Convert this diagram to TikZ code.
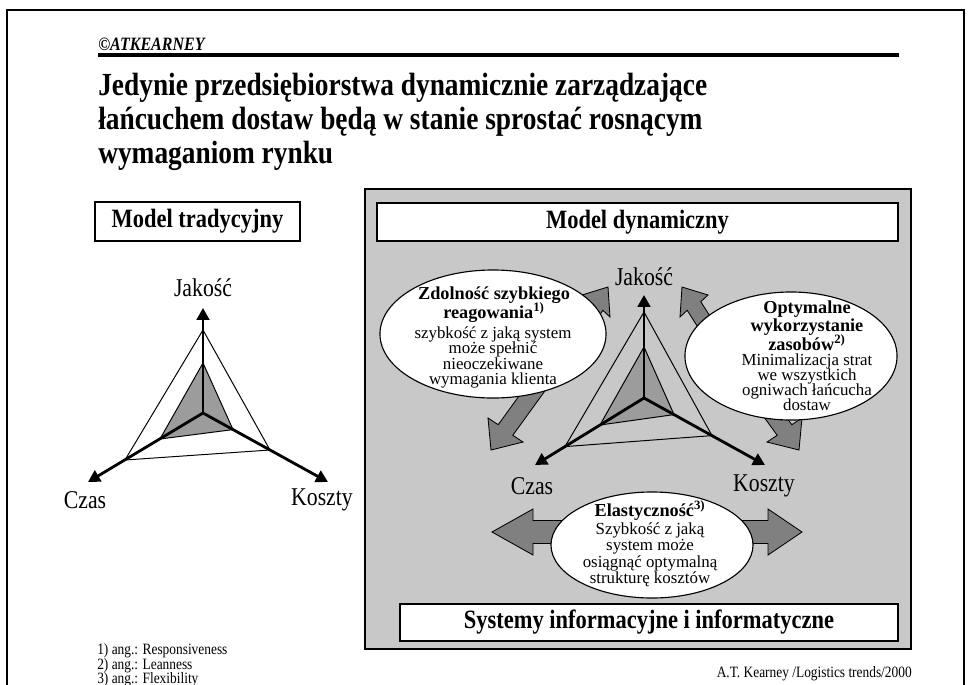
\documentclass[tikz,border=0pt]{standalone}
\usepackage{graphicx}
\usepackage{fontspec}
\setmainfont{Liberation Serif}[FakeStretch=0.85]
\newfontfamily\plainserif{Liberation Serif}
\usetikzlibrary{arrows.meta,shapes.geometric}
\definecolor{panelgray}{HTML}{C8C8C8}
\definecolor{arrowgray}{HTML}{808080}
\definecolor{innergray}{HTML}{9C9C9C}

\tikzset{
  headbox/.style={draw, line width=1pt, fill=white, inner sep=0pt,
    font=\fontsize{18.8}{20}\selectfont\bfseries},
  axis/.style={line width=2pt, -{Triangle[length=8.5pt,width=9pt]}},
  axislabel/.style={font=\fontsize{18.2}{19}\selectfont},
  blob/.style={ellipse, draw, line width=0.8pt, fill=white, inner sep=0pt},
  blobhead/.style={anchor=base, inner sep=0pt, font=\plainserif\fontsize{13}{13}\selectfont\bfseries},
  blobline/.style={anchor=base, inner sep=0pt, font=\plainserif\fontsize{12}{12}\selectfont},
  blockarrow/.style={draw, line width=0.6pt, fill=arrowgray, line join=miter},
  small/.style={font=\fontsize{11.2}{11.5}\selectfont, inner sep=0pt},
}

\begin{document}
\begin{tikzpicture}[x=0.025cm, y=-0.025cm]
\useasboundingbox (0,0) rectangle (976,685);
\clip (0,0) rectangle (976,685);
\draw[line width=1.6pt] (7,700) -- (7,10) -- (964,10) -- (964,700);
\node[anchor=base west, inner sep=0pt, font=\fontsize{13.4}{14}\selectfont\bfseries\itshape] (logo) at (98,50) {©ATKEARNEY};
\draw[line width=2.8pt] (98,55) -- (899,55);
\foreach \txt [count=\i] in {Jedynie przedsiębiorstwa dynamicznie zarządzające, łańcuchem dostaw będą w stanie sprostać rosnącym, wymaganiom rynku}
  \node[anchor=base west, inner sep=0pt, font=\fontsize{22.9}{24}\selectfont\bfseries] (title\i) at (98,61+34*\i) {\txt};

\node[headbox, minimum width=5.125cm, minimum height=0.975cm] (tradbox) at (197.5,221.5) {Model tradycyjny};
\draw[line width=0.7pt] (203,330) -- (125,460) -- (270,450) -- cycle;
\draw[line width=0.7pt, fill=innergray] (203,363) -- (160,439) -- (233,429.6) -- cycle;
\coordinate (tc) at (203,413);
\coordinate (tq) at (203,308);
\coordinate (tt) at (88,482);
\coordinate (tk) at (328,482);
\draw[axis] (tc) -- (tq);
\draw[axis] (tc) -- (tt);
\draw[axis] (tc) -- (tk);
\node[axislabel] (tqlabel) at (203,288) {Jakość};
\node[axislabel] (ttlabel) at (85,500) {Czas};
\node[axislabel] (tklabel) at (322,500) {Koszty};

\node[draw, line width=1pt, fill=panelgray, minimum width=13.65cm, minimum height=11.5cm, inner sep=0pt] (panel) at (638,419) {};
\node[headbox, minimum width=13.025cm, minimum height=0.95cm] (dynbox) at (637.5,222) {Model dynamiczny};
\node[headbox, minimum width=12.45cm, minimum height=0.925cm] (infobox) at (649,622.5) {Systemy informacyjne i informatyczne};

\draw[line width=0.7pt] (644,312) -- (565,446.6) -- (712,435.6) -- cycle;
\draw[line width=0.7pt, fill=innergray] (644,347) -- (600,425) -- (674,414.6) -- cycle;
\coordinate (dc) at (644,398);
\coordinate (dq) at (644,295);
\coordinate (dt) at (535,465);
\coordinate (dk) at (765,465);
\draw[axis] (dc) -- (dq);
\draw[axis] (dc) -- (dt);
\draw[axis] (dc) -- (dk);
\node[axislabel] (dqlabel) at (644,277) {Jakość};
\node[axislabel] (dtlabel) at (532,486) {Czas};
\node[axislabel] (dklabel) at (764,486) {Koszty};

\draw[blockarrow] (557.2,352.3) -- (589.2,301.7) -- (582,295) -- (608,287) -- (610,317) -- (602.8,310.3) -- (570.8,360.9) -- cycle;
\draw[blockarrow] (533.4,376.1) -- (498.2,424.7) -- (488,418) -- (491,450) -- (523,442) -- (512.8,435.3) -- (548,386.7) -- cycle;
\draw[blockarrow] (732.8,352.3) -- (700.8,301.7) -- (708,295) -- (682,287) -- (680,317) -- (687.2,310.3) -- (719.2,360.9) -- cycle;
\draw[blockarrow] (756.6,376.1) -- (791.8,424.7) -- (802,418) -- (799,450) -- (767,442) -- (777.2,435.3) -- (742,386.7) -- cycle;
\draw[blockarrow] (492,532) -- (533,509) -- (533,520.5) -- (768,520.5) -- (768,509) -- (802,532) -- (768,555) -- (768,543.5) -- (533,543.5) -- (533,555) -- cycle;

\node[blob, minimum width=5.65cm, minimum height=3.2cm] (leftblob) at (493,334) {};
\foreach \txt [count=\i] in {Zdolność szybkiego, reagowania\textsuperscript{1)}}
  \node[blobhead] (lefthead\i) at (494,280+19*\i) {\txt};
\foreach \txt [count=\i] in {szybkość z jaką system, może spełnić, nieoczekiwane, wymagania klienta}
  \node[blobline] (leftline\i) at (493,322.5+15.5*\i) {\txt};

\node[blob, minimum width=5.3cm, minimum height=3.2cm] (rightblob) at (791,356) {};
\foreach \txt [count=\i] in {Optymalne, wykorzystanie, zasobów\textsuperscript{2)}}
  \node[blobhead] (righthead\i) at (807,294.5+18.5*\i) {\txt};
\foreach \txt [count=\i] in {Minimalizacja strat, we wszystkich, ogniwach łańcucha, dostaw}
  \node[blobline] (rightline\i) at (807,350.5+15*\i) {\txt};

\node[blob, minimum width=5.05cm, minimum height=2.65cm] (bottomblob) at (652,545) {};
\node[blobhead] (bottomhead) at (650,516) {Elastyczność\textsuperscript{3)}};
\foreach \txt [count=\i] in {Szybkość z jaką, system może, osiągnąć optymalną, strukturę kosztów}
  \node[blobline] (bottomline\i) at (650,517.5+16.5*\i) {\txt};

\foreach \txt [count=\i] in {1) ang.: Responsiveness, 2) ang.: Leanness, 3) ang.: Flexibility}
  \node[small, anchor=base west] (note\i) at (97,640+14.5*\i) {\txt};
\node[small, anchor=base east] (source) at (912,677) {A.T. Kearney /Logistics trends/2000};
\end{tikzpicture}
\end{document}
